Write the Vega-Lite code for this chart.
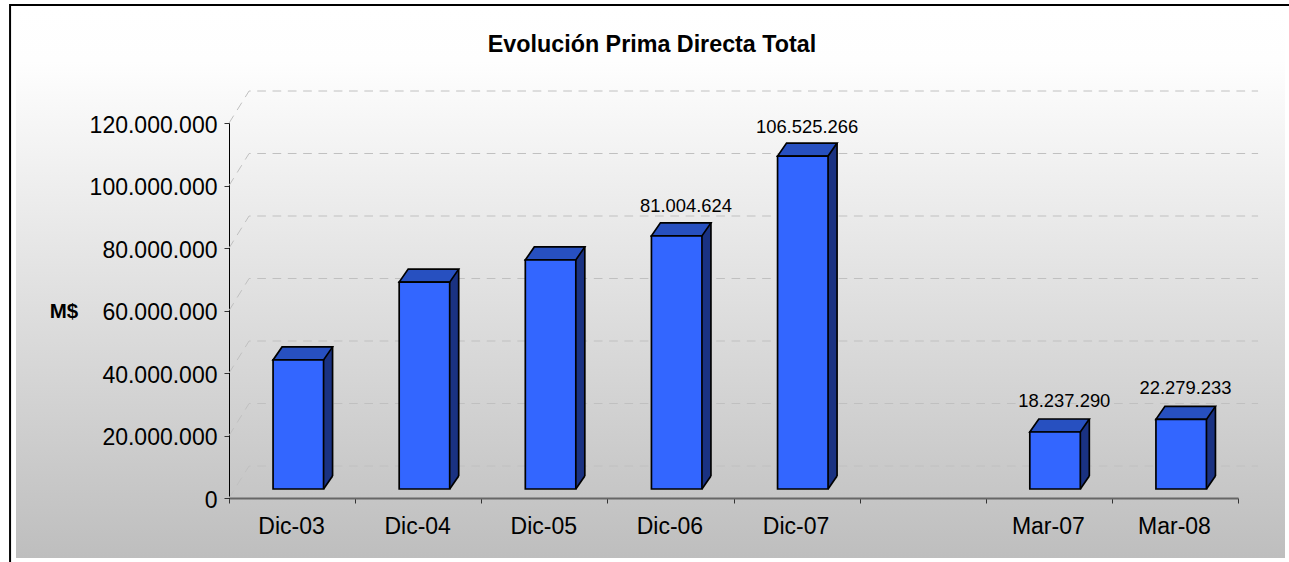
{
"$schema":"https://vega.github.io/schema/vega-lite/v6.json",
"width":1269,"height":552,
"autosize":{"type":"none"},
"padding":{"left":16,"top":6,"right":4,"bottom":4},
"background":"white",
"title":{"text":"Evolución Prima Directa Total","anchor":"middle","frame":"group","font":"Liberation Sans","fontSize":23.3,"fontWeight":"bold","color":"black","baseline":"middle","offset":0,"dx":1.5,"dy":67},
"config":{
"locale":{"number":{"decimal":",","thousands":".","grouping":[3],"currency":["","$"]}},
"view":{"fill":{"gradient":"linear","x1":0,"y1":0,"x2":0,"y2":1,"stops":[{"offset":0,"color":"#ffffff"},{"offset":0.1,"color":"#fefefe"},{"offset":1,"color":"#bebebe"}]},"stroke":null},
"font":"Liberation Sans"
},
"data":{"name":"barras","values":[
{"periodo":"Dic-03","valor":41300000},
{"periodo":"Dic-04","valor":66200000},
{"periodo":"Dic-05","valor":73300000},
{"periodo":"Dic-06","valor":81004624},
{"periodo":"Dic-07","valor":106525266},
{"periodo":"Mar-07","valor":18237290},
{"periodo":"Mar-08","valor":22279233}
]},
"encoding":{
"x":{"field":"periodo","type":"nominal","title":null,
"scale":{"domain":["Dic-03","Dic-04","Dic-05","Dic-06","Dic-07"," ","Mar-07","Mar-08"],"range":[213,1222],"paddingInner":0,"paddingOuter":0},
"axis":{"orient":"bottom","offset":-60,"labelAngle":0,"labelFontSize":23,"labelColor":"black","labelPadding":23,"labelOffset":-1,"labelBaseline":"middle","tickBand":"extent","tickSize":5,"tickColor":"#333333","tickWidth":1,"domainColor":"#666666","domainWidth":2,"grid":false,"labelFont":"Liberation Sans"}},
"y":{"field":"valor","type":"quantitative","title":"M$",
"scale":{"domain":[0,120000000],"range":[492,117],"nice":false,"zero":true},
"axis":{"orient":"left","offset":-213,"values":[0,20000000,40000000,60000000,80000000,100000000,120000000],"format":",.0f","labelFontSize":23,"labelColor":"black","labelPadding":7,"labelOffset":2,"tickSize":5,"tickColor":"#333333","tickWidth":1,"domainColor":"black","domainWidth":1,"grid":false,"labelFont":"Liberation Sans","titleAngle":0,"titleFontSize":20.5,"titleFontWeight":"bold","titleColor":"black","titleFont":"Liberation Sans","titleAlign":"center","titleBaseline":"middle","titleX":-165.5,"titleY":305}}
},
"layer":[
{"data":{"values":[{"marca":0},{"marca":20000000},{"marca":40000000},{"marca":60000000},{"marca":80000000},{"marca":100000000},{"marca":120000000}]},
"mark":{"type":"point","shape":"M-63 0L-43 -32L966 -32","size":4,"filled":false,"stroke":"#c0c0c0","strokeWidth":1,"strokeDash":[8.7,6.6],"opacity":1},
"encoding":{"x":{"datum":"Dic-03","type":"nominal"},"y":{"field":"marca","type":"quantitative","title":"M$"}}},
{"data":{"values":[{"origen":0}]},
"mark":{"type":"point","shape":"M-282 64L-282 -493L997 -493","size":4,"filled":false,"stroke":"black","strokeWidth":2,"opacity":1},
"encoding":{"x":{"datum":"Dic-03","type":"nominal"},"y":{"field":"origen","type":"quantitative","title":"M$"}}},
{"mark":{"type":"bar","width":9,"xOffset":36,"yOffset":-22,"y2Offset":-22,"fill":"#1a3282"},"encoding":{"y":{"field":"valor","type":"quantitative","title":"M$"},"y2":{"datum":0}}},
{"mark":{"type":"rule","xOffset":40.5,"yOffset":-22,"y2Offset":-22,"stroke":"black","strokeWidth":1.7},"encoding":{"y":{"field":"valor","type":"quantitative","title":"M$"},"y2":{"datum":0}}},
{"mark":{"type":"point","shape":"M31.5 -9L40.5 -22L31.5 -22Z","size":4,"filled":true,"fill":"#1a3282","stroke":null,"opacity":1},"encoding":{"y":{"datum":0,"type":"quantitative","title":"M$"}}},
{"mark":{"type":"point","shape":"M31.5 -9L40.5 -22","size":4,"filled":false,"stroke":"black","strokeWidth":1.7,"opacity":1},"encoding":{"y":{"datum":0,"type":"quantitative","title":"M$"}}},
{"mark":{"type":"point","shape":"M-19 -9L31.5 -9L40.5 -22L-10 -22Z","size":4,"filled":true,"fill":"#2750c0","stroke":"black","strokeWidth":1.7,"opacity":1}},
{"mark":{"type":"bar","width":50.5,"xOffset":6.25,"yOffset":-9,"y2Offset":-9,"fill":"#3366ff","stroke":"black","strokeWidth":1.7},"encoding":{"y":{"field":"valor","type":"quantitative","title":"M$"},"y2":{"datum":0}}},
{"transform":[{"filter":"datum.valor!==41300000&&datum.valor!==66200000&&datum.valor!==73300000"}],
"mark":{"type":"text","font":"Liberation Sans","fontSize":18.4,"color":"black","align":"center","baseline":"middle","dx":{"expr":"datum.periodo==='Dic-07'||datum.periodo==='Mar-08'?10.5:15.5"},"dy":{"expr":"datum.periodo==='Dic-07'?-38:datum.periodo==='Dic-06'?-39:-40"}},
"encoding":{"text":{"field":"valor","type":"quantitative","format":",.0f"}}}
]
}
